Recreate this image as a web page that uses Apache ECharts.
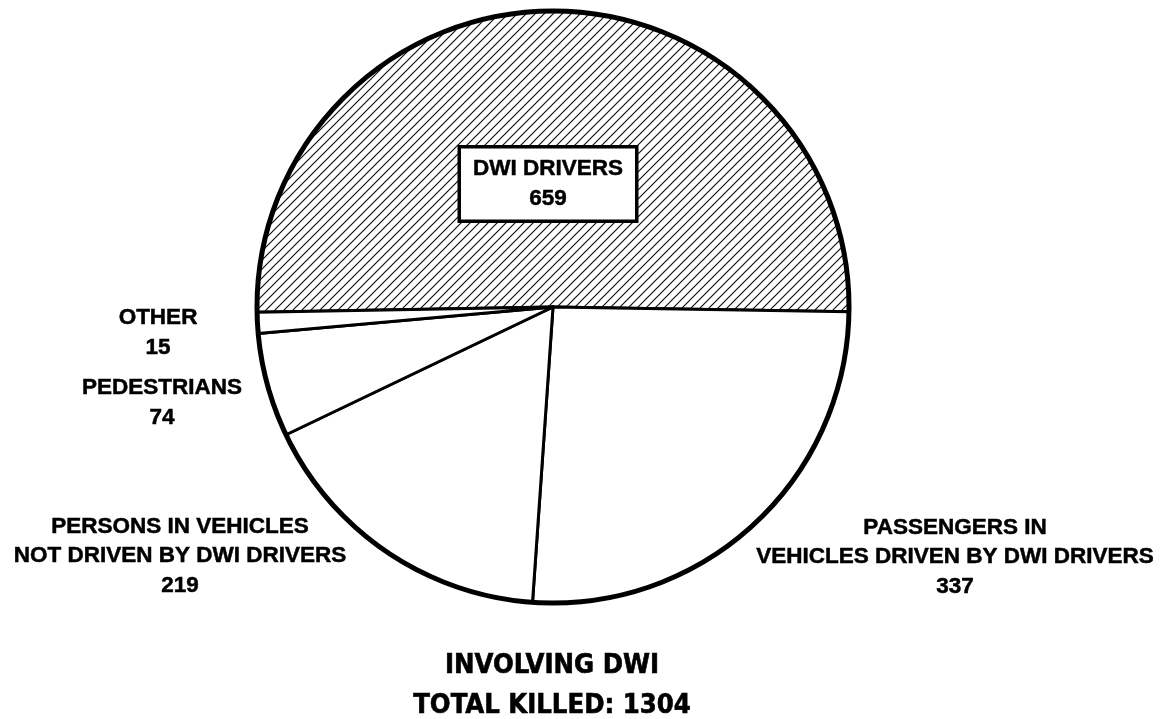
<!DOCTYPE html>
<html>
<head>
<meta charset="utf-8">
<script src="https://cdn.jsdelivr.net/npm/echarts@6/dist/echarts.min.js"></script>
<style>
  html, body { margin: 0; padding: 0; background: #fff; }
  #dwiPie { width: 1166px; height: 719px; }
</style>
</head>
<body>
<div id="dwiPie"></div>
<script>
  // data
  var categories = ['DWI DRIVERS', 'PASSENGERS IN\nVEHICLES DRIVEN BY DWI DRIVERS',
    'PERSONS IN VEHICLES\nNOT DRIVEN BY DWI DRIVERS', 'PEDESTRIANS', 'OTHER'];
  var killed = [659, 337, 219, 74, 15];
  var titleLines = ['INVOLVING DWI', 'TOTAL KILLED: 1304'];

  // label spots (centre of each label block)
  var labelSpots = [[548, 184], [955, 557], [180, 556], [162, 403], [158, 333]];

  // diagonal hatch for the DWI drivers slice
  function hatch() {
    var c = document.createElement('canvas');
    c.width = 9; c.height = 9;
    var g = c.getContext('2d');
    g.fillStyle = '#fff';
    g.fillRect(0, 0, 9, 9);
    g.strokeStyle = '#111';
    g.lineWidth = 1.2;
    g.beginPath();
    g.moveTo(-1, 10); g.lineTo(10, -1);
    g.moveTo(-1, 1); g.lineTo(1, -1);
    g.moveTo(8, 10); g.lineTo(10, 8);
    g.stroke();
    return c;
  }

  var myChart = echarts.init(document.getElementById('dwiPie'));
  var font = '"Liberation Sans", Arial, sans-serif';

  var pieData = categories.map(function (name, i) {
    var item = { name: name, value: killed[i] };
    if (i === 0) {
      item.itemStyle = { color: { image: hatch(), repeat: 'repeat' } };
      item.label = {
        backgroundColor: '#fff',
        borderColor: '#000',
        borderWidth: 3.5,
        padding: [7, 12, 5, 12]
      };
    }
    return item;
  });

  myChart.setOption({
    backgroundColor: '#fff',
    animation: false,
    graphic: [{
      type: 'text',
      x: 552,
      y: 646,
      silent: true,
      style: {
        text: titleLines.join('\n'),
        align: 'center',
        verticalAlign: 'top',
        fontFamily: '"Liberation Sans Narrow", "DejaVu Sans Condensed", sans-serif',
        fontWeight: 'bold',
        fontSize: 27.2,
        lineHeight: 40,
        fill: '#000',
        stroke: '#000',
        lineWidth: 0.6
      }
    }],
    series: [{
      name: 'killed',
      type: 'pie',
      center: [553, 307],
      radius: [0, 296],
      startAngle: 181,
      clockwise: true,
      data: pieData,
      itemStyle: { color: '#fff', borderColor: '#000', borderWidth: 3 },
      label: {
        show: true,
        position: 'outside',
        formatter: '{b}\n{c}',
        fontFamily: font,
        fontWeight: 'bold',
        fontSize: 22.5,
        lineHeight: 29.5,
        color: '#000',
        textBorderColor: '#000',
        textBorderWidth: 0.5,
        align: 'center',
        overflow: 'none'
      },
      labelLine: { show: false },
      labelLayout: function (p) {
        var s = labelSpots[p.dataIndex];
        return { x: s[0], y: s[1], align: 'center', verticalAlign: 'middle', hideOverlap: false };
      },
      emphasis: { disabled: true }
    }, {
      // heavy outer rim
      type: 'pie',
      silent: true,
      center: [553, 307],
      radius: [0, 296],
      data: [{ value: 1, itemStyle: { color: 'transparent', borderColor: '#000', borderWidth: 5 } }],
      label: { show: false },
      labelLine: { show: false }
    }]
  });
</script>
</body>
</html>
